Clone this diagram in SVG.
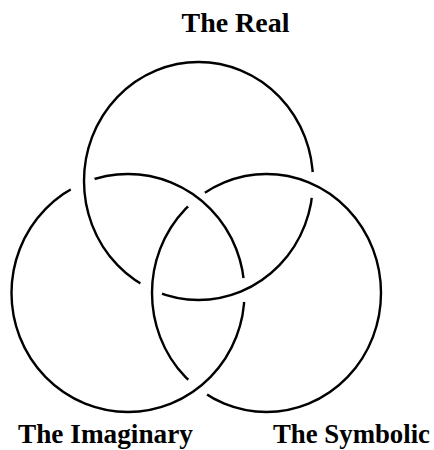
<svg xmlns="http://www.w3.org/2000/svg" width="434" height="450" viewBox="0 0 434 450">
  <style>
    .ring { fill: none; stroke: #000; stroke-width: 2.4; }
    .label { font-family: "Liberation Serif", "Times New Roman", serif; font-weight: bold; font-size: 28px; fill: #000; }
  </style>
  <defs>
    <mask id="mReal" maskUnits="userSpaceOnUse" x="0" y="0" width="434" height="450">
      <rect x="0" y="0" width="434" height="450" fill="#fff"/>
      <circle cx="313" cy="185" r="13" fill="#000"/>
      <circle cx="151" cy="289" r="12" fill="#000"/>
    </mask>
    <mask id="mImag" maskUnits="userSpaceOnUse" x="0" y="0" width="434" height="450">
      <rect x="0" y="0" width="434" height="450" fill="#fff"/>
      <circle cx="83" cy="185" r="13" fill="#000"/>
      <circle cx="244" cy="290" r="12" fill="#000"/>
    </mask>
    <mask id="mSymb" maskUnits="userSpaceOnUse" x="0" y="0" width="434" height="450">
      <rect x="0" y="0" width="434" height="450" fill="#fff"/>
      <circle cx="196" cy="199" r="11" fill="#000"/>
      <circle cx="197" cy="388" r="12" fill="#000"/>
    </mask>
  </defs>
  <rect x="0" y="0" width="434" height="450" fill="#fff"/>
  <g id="connectors"></g>
  <g id="real">
    <ellipse class="ring" cx="198.5" cy="181" rx="114.5" ry="119" mask="url(#mReal)"/>
    <text class="label" x="181.5" y="31.7" textLength="108" lengthAdjust="spacingAndGlyphs">The Real</text>
  </g>
  <g id="imaginary">
    <ellipse class="ring" cx="128" cy="293" rx="116.5" ry="119" mask="url(#mImag)"/>
    <text class="label" x="18" y="442.5" textLength="175" lengthAdjust="spacingAndGlyphs">The Imaginary</text>
  </g>
  <g id="symbolic">
    <ellipse class="ring" cx="266.5" cy="293" rx="114.5" ry="119" mask="url(#mSymb)"/>
    <text class="label" x="273" y="442.5" style="font-size:27px" textLength="157" lengthAdjust="spacingAndGlyphs">The Symbolic</text>
  </g>
</svg>
